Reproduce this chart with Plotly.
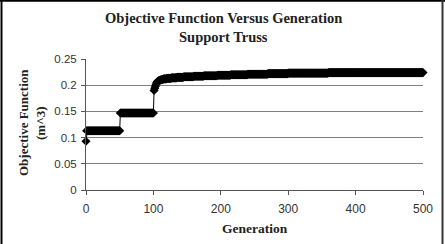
import numpy as np
import plotly.graph_objects as go

step_values = [0.093, 0.113, 0.147, 0.190, 0.194, 0.198, 0.202, 0.205, 0.207,
               0.209, 0.210, 0.211, 0.212, 0.213, 0.214, 0.215, 0.216, 0.217,
               0.218, 0.219, 0.220, 0.221, 0.222, 0.223, 0.224]
step_counts = [1, 50, 50, 1, 1, 1, 1, 1, 2,
               2, 2, 3, 5, 7, 8, 10, 15, 15,
               20, 20, 25, 30, 30, 60, 141]

generations = list(range(sum(step_counts)))
objective = list(np.repeat(step_values, step_counts))

x_ticks = [0, 100, 200, 300, 400, 500]
y_ticks = [0, 0.05, 0.1, 0.15, 0.2, 0.25]
y_tick_labels = ["0", "0.05", "0.1", "0.15", "0.2", "0.25"]

title_line1 = "Objective Function Versus Generation"
title_line2 = "Support Truss"
x_title = "Generation"
y_title1 = "Objective Function"
y_title2 = "(m^3)"

W, H = 445, 244
L, R, T, B = 86, 22, 59, 54
pw, ph = W - L - R, H - T - B

def px(xp):
    return (xp - L) / pw

def py(yp):
    return (H - B - yp) / ph

fig = go.Figure()
fig.add_trace(go.Scatter(
    x=generations, y=objective, mode="lines+markers",
    line=dict(color="black", width=1),
    marker=dict(symbol="diamond", size=7, color="black"),
    showlegend=False, cliponaxis=False,
))

serif = "Liberation Serif"
sans = "Liberation Sans"

def ann(text, x, y, size, angle=0):
    return dict(text="<b>" + text + "</b>", x=px(x), y=py(y), xref="paper", yref="paper",
                showarrow=False, textangle=angle,
                font=dict(family=serif, size=size, color="#222"),
                xanchor="center", yanchor="middle")

fig.update_layout(
    width=W, height=H,
    margin=dict(l=L, r=R, t=T, b=B),
    paper_bgcolor="white", plot_bgcolor="white",
    xaxis=dict(range=[0, 500], tickvals=x_ticks, showgrid=False, zeroline=False,
               showline=True, linecolor="#555", linewidth=1,
               ticks="outside", ticklen=4, tickcolor="#555", ticklabelstandoff=4,
               tickfont=dict(family=sans, size=12, color="#333")),
    yaxis=dict(range=[0, 0.25], tickvals=y_ticks, ticktext=y_tick_labels,
               showgrid=True, gridcolor="#808080", gridwidth=1, zeroline=False,
               showline=True, linecolor="#555", linewidth=1,
               ticks="outside", ticklen=4, tickcolor="#555", ticklabelstandoff=2,
               tickfont=dict(family=sans, size=11.5, color="#333")),
    annotations=[
        ann(title_line1, 223, 18, 14.5),
        ann(title_line2, 223, 37, 14.5),
        ann(x_title, 255, 228, 13.5),
        ann(y_title1, 23, 123, 13, -90),
        ann(y_title2, 40, 123, 13, -90),
    ],
    shapes=[
        dict(type="line", xref="paper", yref="paper", x0=px(1.5), x1=px(1.5),
             y0=py(0), y1=py(244), line=dict(color="black", width=2)),
        dict(type="line", xref="paper", yref="paper", x0=px(0), x1=px(445),
             y0=py(0.7), y1=py(0.7), line=dict(color="black", width=2)),
        dict(type="line", xref="paper", yref="paper", x0=px(442.5), x1=px(442.5),
             y0=py(0), y1=py(244), line=dict(color="#333", width=2)),
    ],
)

fig.write_html("out.html")
